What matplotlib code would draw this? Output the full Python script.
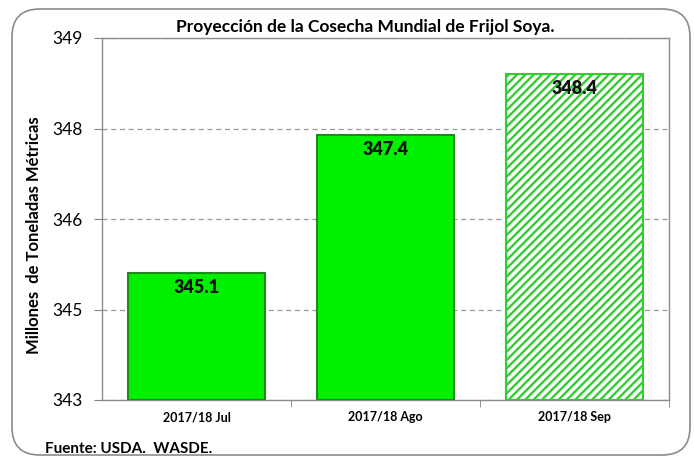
import matplotlib.pyplot as plt
from matplotlib.patches import FancyBboxPatch
from matplotlib.ticker import FuncFormatter

categorias = ['2017/18 Jul', '2017/18 Ago', '2017/18 Sep']
valores = [345.1, 347.4, 348.4]
etiquetas = ['345.1', '347.4', '348.4']

plt.rcParams['font.family'] = ['Lato', 'DejaVu Sans']
plt.rcParams['hatch.linewidth'] = 1.7
plt.rcParams['hatch.color'] = '#00ee00'

fig = plt.figure(figsize=(6.94, 4.57), dpi=100)
fig.patches.append(FancyBboxPatch((12/694, 1-455/457), 678/694, 446/457,
                                  boxstyle='round,pad=0,rounding_size=0.04',
                                  transform=fig.transFigure, fc='white',
                                  ec='#8c8c8c', lw=1.2, zorder=-5,
                                  mutation_aspect=694/457))
ax = fig.add_axes([102/694, 1-400/457, 567/694, 362/457])

for i, v in enumerate(valores):
    if i < 2:
        ax.bar(i, v - 343, bottom=343, width=0.72, color='#00f000',
               edgecolor='#1f8a1f', linewidth=1.5, zorder=3)
    else:
        ax.bar(i, v - 343, bottom=343, width=0.72, color='white',
               edgecolor='#33cc33', hatch='////', linewidth=1.5, zorder=3)
    ax.text(i, v - 0.1, etiquetas[i], ha='center', va='top',
            fontsize=13, fontweight='heavy', color='#111111', zorder=4)

ax.set_xlim(-0.5, 2.5)
ax.set_ylim(343, 349)
ax.set_yticks([343, 344.5, 346, 347.5, 349])
ax.yaxis.set_major_formatter(FuncFormatter(lambda v, p: '%d' % int(v + 0.5)))
ax.set_xticks([0, 1, 2])
ax.set_xticklabels(categorias, fontsize=9, fontweight='bold')
ax.set_xticks([0.5, 1.5, 2.5], minor=True)
ax.tick_params(axis='x', which='major', length=0, pad=8)
ax.tick_params(axis='x', which='minor', length=5, color='#808080', direction='out')
ax.tick_params(axis='y', length=6, color='#808080', labelsize=12.5, pad=8)
ax.grid(axis='y', linestyle=(0, (4, 3)), color='#999999', lw=0.9, zorder=0)
for s in ax.spines.values():
    s.set_color('#8c8c8c')
    s.set_linewidth(1.0)

ax.set_ylabel('Millones  de Toneladas Métricas', fontsize=12,
              fontweight='bold')
ax.yaxis.set_label_coords(-0.105, 0.455)

fig.text(0.526, 0.94, 'Proyección de la Cosecha Mundial de Frijol Soya.',
         ha='center', va='center', fontsize=12.5, fontweight='bold')
fig.text(45/694, 1-449/457, 'Fuente: USDA.  WASDE.', ha='left',
         va='center', fontsize=11, fontweight='bold')

fig.savefig('out.png', dpi=100)
